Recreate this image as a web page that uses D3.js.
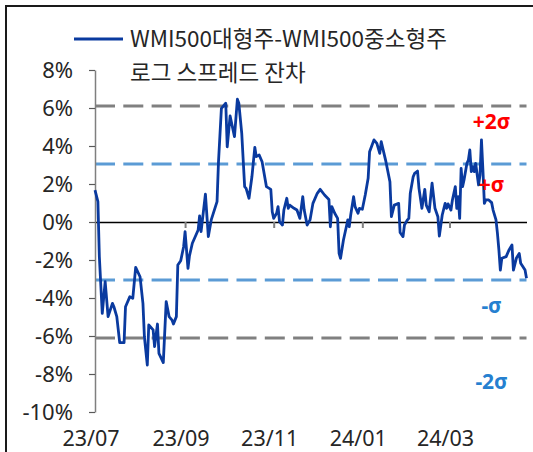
<!DOCTYPE html>
<html><head><meta charset="utf-8">
<script src="https://cdn.jsdelivr.net/npm/d3@7"></script>
<style>
html,body{margin:0;padding:0;background:#fff;}
svg{display:block;}
text{font-family:"Noto Sans","Noto Sans CJK KR",sans-serif;}
</style></head>
<body>
<svg id="chart" width="533" height="452"></svg>
<script>
const dates = ["2023-07-01","2023-07-03","2023-07-04","2023-07-06","2023-07-08","2023-07-10","2023-07-13","2023-07-14","2023-07-16","2023-07-18",
"2023-07-21","2023-07-22","2023-07-25","2023-07-27","2023-07-29","2023-08-01","2023-08-03","2023-08-04","2023-08-06","2023-08-07",
"2023-08-10","2023-08-11","2023-08-13","2023-08-14","2023-08-17","2023-08-19","2023-08-21","2023-08-23","2023-08-24","2023-08-26",
"2023-08-27","2023-08-29","2023-08-31","2023-09-01","2023-09-03","2023-09-04","2023-09-06","2023-09-10","2023-09-11","2023-09-12",
"2023-09-15","2023-09-17","2023-09-19","2023-09-23","2023-09-24","2023-09-26","2023-09-29","2023-09-30","2023-10-02","2023-10-05",
"2023-10-07","2023-10-08","2023-10-10","2023-10-12","2023-10-13","2023-10-15","2023-10-17","2023-10-19","2023-10-20","2023-10-22",
"2023-10-24","2023-10-27","2023-10-30","2023-10-31","2023-11-01","2023-11-03","2023-11-04","2023-11-05","2023-11-07","2023-11-08",
"2023-11-10","2023-11-11","2023-11-12","2023-11-15","2023-11-17","2023-11-19","2023-11-21","2023-11-22","2023-11-24","2023-11-26",
"2023-11-28","2023-12-01","2023-12-03","2023-12-06","2023-12-09","2023-12-10","2023-12-11","2023-12-13","2023-12-15","2023-12-16",
"2023-12-17","2023-12-19","2023-12-21","2023-12-22","2023-12-23","2023-12-24","2023-12-26","2023-12-27","2023-12-29","2023-12-30",
"2024-01-01","2024-01-03","2024-01-05","2024-01-06","2024-01-09","2024-01-11","2024-01-13","2024-01-14","2024-01-17","2024-01-20",
"2024-01-21","2024-01-23","2024-01-26","2024-01-27","2024-01-29","2024-01-30","2024-02-01","2024-02-02","2024-02-03","2024-02-05",
"2024-02-06","2024-02-08","2024-02-09","2024-02-11","2024-02-13","2024-02-14","2024-02-16","2024-02-18","2024-02-20","2024-02-22",
"2024-02-23","2024-02-25","2024-02-27","2024-02-28","2024-02-29","2024-03-02","2024-03-03","2024-03-05","2024-03-06","2024-03-07",
"2024-03-08","2024-03-09","2024-03-10","2024-03-11","2024-03-13","2024-03-14","2024-03-15","2024-03-16","2024-03-17","2024-03-18",
"2024-03-19","2024-03-21","2024-03-22","2024-03-23","2024-03-24","2024-03-25","2024-03-26","2024-03-28","2024-03-30","2024-03-31",
"2024-04-02","2024-04-03","2024-04-04","2024-04-05","2024-04-06","2024-04-09","2024-04-11","2024-04-13","2024-04-14","2024-04-16",
"2024-04-18","2024-04-19","2024-04-22","2024-04-23"];

const residuals = [1.68,1.07,-1.83,-4.81,-3.14,-4.98,-4.28,-4.46,-4.98,-6.35,
-6.35,-4.46,-3.93,-4.02,-2.39,-2.88,-4.28,-6.04,-7.53,-5.42,
-5.68,-6.56,-5.37,-6.91,-7.40,-4.19,-4.98,-5.16,-5.37,-4.98,
-2.26,-2.04,-1.30,-0.51,-2.44,-1.79,-1.12,-0.42,0.32,-0.51,
1.47,-0.77,0.11,1.07,3.17,5.98,6.25,3.96,5.58,4.49,
6.46,6.25,4.67,1.86,1.77,1.25,2.38,3.93,3.44,3.53,
3.17,1.86,1.72,0.54,0.19,0.46,0.81,0.02,-0.16,0.63,
1.25,0.72,0.89,0.72,0.63,0.19,1.33,0.63,-0.16,0.11,
0.98,1.51,1.72,1.42,1.19,-0.25,0.81,0.46,0.19,-1.65,
-1.91,-0.95,-0.25,0.11,-0.25,0.37,1.33,0.81,0.46,0.72,
0.67,1.42,2.30,3.70,4.32,4.14,3.61,4.23,3.26,2.12,
0.28,0.89,0.98,-0.55,-0.77,-0.16,0.11,0.19,1.51,2.38,
2.56,2.68,1.77,0.72,1.72,0.89,0.54,2.04,0.72,0.28,
-0.74,0.37,0.98,0.72,0.95,0.63,1.16,1.86,0.72,1.33,
0.19,2.82,1.86,2.21,3.09,3.26,3.79,2.65,2.91,2.65,
3.09,1.95,2.47,4.32,2.74,0.98,1.16,1.16,1.02,0.63,
0.11,-0.60,-1.47,-2.53,-1.91,-1.82,-1.47,-1.21,-2.53,-1.91,
-1.65,-2.17,-2.53,-2.96];

const yTicks = [8,6,4,2,0,-2,-4,-6,-8,-10];
const xTickDates = ["2023-07-01","2023-09-01","2023-11-01","2024-01-01","2024-03-01"];
const xTickLabels = ["23/07","23/09","23/11","24/01","24/03"];
const sigma = 3.05;
const bandMultiples = [2,1,-1,-2];
const bandLabels = ["+2σ","+σ","-σ","-2σ"];
const bandLabelValues = [5.3,2.0,-4.4,-8.4];
const bandLabelDate = "2024-03-30";
const legendLines = ["WMI500대형주-WMI500중소형주","로그 스프레드 잔차"];

(function(){
const parse = d3.timeParse("%Y-%m-%d");
const data = dates.map((d,i)=>({date:parse(d), v:residuals[i]}));

const svg = d3.select("#chart");
const mLeft = 95, mRight = 526.5, mTop = 70, mBottom = 412;

const x = d3.scaleTime().domain([parse(dates[0]), parse(dates[dates.length-1])]).range([mLeft,mRight]);
const y = d3.scaleLinear().domain([-10,8]).range([mBottom,mTop]);

// outer frame
svg.append("rect").attr("x",6).attr("y",6).attr("width",560).attr("height",480)
  .attr("fill","none").attr("stroke","#1a1a1a").attr("stroke-width",2);

// sigma dashed lines
const bandColor = m => Math.abs(m)===2 ? "#808080" : "#5b9bd5";
svg.append("g").selectAll("line").data(bandMultiples).join("line")
  .attr("x1",mLeft).attr("x2",mRight)
  .attr("y1",d=>y(d*sigma)).attr("y2",d=>y(d*sigma))
  .attr("stroke",bandColor).attr("stroke-width",3)
  .attr("stroke-dasharray","20,8.3");

// zero line with x ticks
const xAxis = d3.axisBottom(x)
  .tickValues(xTickDates.slice(1).map(parse))
  .tickSize(6).tickSizeOuter(0).tickFormat("");
const gx = svg.append("g").attr("transform",`translate(0,${y(0)})`).call(xAxis);
gx.select(".domain").attr("stroke","#000").attr("stroke-width",1.5);
gx.selectAll(".tick line").attr("stroke","#808080").attr("stroke-width",2);

// y axis
const yAxis = d3.axisLeft(y).tickValues(yTicks).tickSize(6).tickSizeOuter(0)
  .tickFormat(d=>d+"%");
const gy = svg.append("g").attr("transform",`translate(${mLeft},0)`).call(yAxis);
gy.select(".domain").attr("stroke","#7f7f7f").attr("stroke-width",1.5);
gy.selectAll(".tick line").attr("stroke","#595959").attr("stroke-width",1.2);
gy.selectAll(".tick text").attr("x",-22).attr("dy","0.36em")
  .attr("font-size",22).attr("fill","#262626")
  .style("font-family",'"Noto Sans",sans-serif');

// x labels
svg.append("g").selectAll("text").data(xTickDates).join("text")
  .attr("x",d=>x(parse(d))-4).attr("y",446)
  .attr("text-anchor","middle").attr("font-size",21.5).attr("fill","#262626")
  .text((d,i)=>xTickLabels[i]);

// series line
svg.append("path").datum(data)
  .attr("fill","none").attr("stroke","#0a3a9f").attr("stroke-width",2.8)
  .attr("stroke-linejoin","round")
  .attr("d", d3.line().x(d=>x(d.date)).y(d=>y(d.v)));

// band labels
svg.append("g").selectAll("text").data(bandLabels).join("text")
  .attr("x",x(parse(bandLabelDate))).attr("y",(d,i)=>y(bandLabelValues[i]))
  .attr("dy","0.36em").attr("text-anchor","middle")
  .attr("font-size",21).attr("font-weight","bold")
  .attr("fill",(d,i)=>bandMultiples[i]>0 ? "#ff0000" : "#2580d0")
  .text(d=>d);

// legend
svg.append("line").attr("x1",74).attr("x2",123).attr("y1",39).attr("y2",39)
  .attr("stroke","#0a3a9f").attr("stroke-width",3);
svg.append("g").selectAll("text").data(legendLines).join("text")
  .attr("x",130).attr("y",(d,i)=>47+i*34)
  .attr("font-size",22.5).attr("fill","#262626")
  .style("font-family",'"Noto Sans CJK KR","Noto Sans",sans-serif')
  .text(d=>d);
})();
</script>
</body></html>
